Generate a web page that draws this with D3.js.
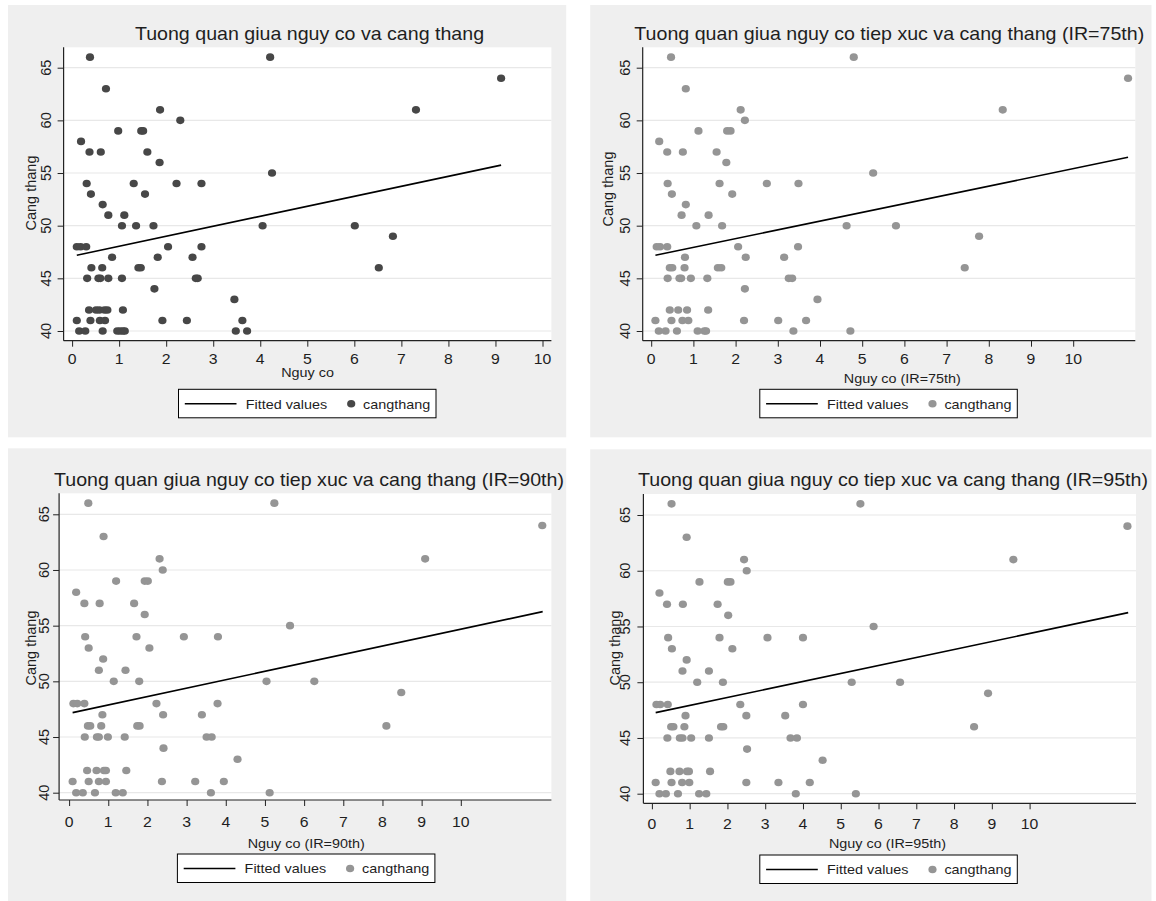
<!DOCTYPE html>
<html><head><meta charset="utf-8">
<script src="https://cdn.jsdelivr.net/npm/d3@7"></script>
<style>
html,body{margin:0;padding:0;background:#fff;}
svg{display:block;font-family:"Liberation Sans",Arial,sans-serif;}
</style></head><body>
<svg id="c" width="1156" height="901"></svg>
<script>
// ---------------- DATA ----------------
const xTicks = [0,1,2,3,4,5,6,7,8,9,10];
const yTicks = [40,45,50,55,60,65];
const titles = [
  "Tuong quan giua nguy co va cang thang",
  "Tuong quan giua nguy co tiep xuc va cang thang (IR=75th)",
  "Tuong quan giua nguy co tiep xuc va cang thang (IR=90th)",
  "Tuong quan giua nguy co tiep xuc va cang thang (IR=95th)"
];
const xTitles = ["Nguy co","Nguy co (IR=75th)","Nguy co (IR=90th)","Nguy co (IR=95th)"];
const yTitle = "Cang thang";
const legendLabels = ["Fitted values","cangthang"];

const stress1 = [66,66,64,63,61,61,60,59,59,59,58,57,57,57,56,55,54,54,54,54,53,53,52,51,51,50,50,50,50,50,49,48,48,48,48,48,47,47,47,46,46,46,46,46,45,45,45,45,45,45,45,44,43,42,42,42,42,42,42,41,41,41,41,41,41,41,40,40,40,40,40,40,40,40,40];
const risk1 = [0.38,4.21, 9.12, 0.72, 1.87,7.31, 2.30, 0.98,1.47,1.51, 0.19, 0.37,0.61,1.60, 1.86, 4.25, 0.31,1.31,2.22,2.75, 0.40,1.55, 0.65, 0.77,1.11, 1.06,1.36,1.73,4.05,6.01, 6.82, 0.10,0.18,0.30,2.04,2.75, 0.85,1.82,2.56, 0.41,0.64,1.41,1.46,6.52, 0.32,0.56,0.60,0.77,1.06,2.63,2.67, 1.75, 3.45, 0.36,0.51,0.58,0.69,0.75,1.08, 0.10,0.39,0.59,0.70,1.92,2.44,3.62, 0.15,0.28,0.65,0.96,1.02,1.08,1.12,3.48,3.72];

const stress2 = [66,66,64,63,61,61,60,59,59,59,58,57,57,57,56,55,54,54,54,54,53,53,52,51,51,50,50,50,50,49,48,48,48,48,48,47,47,47,46,46,46,46,46,46,45,45,45,45,45,45,45,44,43,42,42,42,42,41,41,41,41,41,41,41,40,40,40,40,40,40,40,40];
const risk2 = [0.47,4.80, 11.30, 0.82, 2.12,8.33, 2.22, 1.12,1.80,1.88, 0.19, 0.38,0.75,1.55, 1.78, 5.26, 0.39,1.62,2.74,3.49, 0.49,1.92, 0.82, 0.72,1.36, 1.07,1.68,4.63,5.80, 7.77, 0.13,0.21,0.38,2.06,3.48, 0.80,2.24,3.15, 0.44,0.50,0.79,1.58,1.66,7.43, 0.39,0.67,0.71,0.94,1.33,3.26,3.34, 2.22, 3.94, 0.44,0.64,0.85,1.35, 0.10,0.48,0.74,0.88,2.20,3.01,3.67, 0.18,0.34,0.61,1.10,1.26,1.30,3.37,4.72];

const stress3 = [66,66,64,63,61,61,60,59,59,59,58,57,57,57,56,55,54,54,54,54,53,53,52,51,51,50,50,50,50,49,48,48,48,48,48,47,47,47,46,46,46,46,46,46,45,45,45,45,45,45,45,44,43,42,42,42,42,42,41,41,41,41,41,41,41,40,40,40,40,40,40,40];
const risk3 = [0.49,5.24, 12.08, 0.88, 2.31,9.09, 2.39, 1.20,1.93,2.01, 0.18, 0.39,0.78,1.66, 1.93, 5.64, 0.41,1.72,2.93,3.80, 0.50,2.05, 0.87, 0.76,1.44, 1.14,1.79,5.04,6.26, 8.48, 0.11,0.21,0.39,2.23,3.79, 0.85,2.40,3.39, 0.48,0.54,0.82,1.74,1.80,8.10, 0.40,0.71,0.76,0.99,1.42,3.51,3.64, 2.41, 4.30, 0.46,0.70,0.89,0.94,1.46, 0.09,0.50,0.76,0.94,2.37,3.22,3.95, 0.18,0.35,0.66,1.19,1.37,3.62,5.12];

const stress4 = [66,66,64,63,61,61,60,59,59,59,58,57,57,57,56,55,54,54,54,54,53,53,52,51,51,50,50,50,50,49,48,48,48,48,48,47,47,47,46,46,46,46,46,46,45,45,45,45,45,45,45,44,43,42,42,42,42,42,41,41,41,41,41,41,41,40,40,40,40,40,40,40];
const risk4 = [0.52,5.52, 12.59, 0.92, 2.44,9.57, 2.51, 1.26,2.01,2.08, 0.20, 0.40,0.82,1.74, 2.02, 5.87, 0.43,1.79,3.06,4.00, 0.53,2.13, 0.92, 0.81,1.51, 1.20,1.88,5.29,6.57, 8.90, 0.12,0.22,0.42,2.34,4.00, 0.89,2.50,3.53, 0.51,0.57,0.86,1.83,1.89,8.53, 0.41,0.74,0.81,1.04,1.51,3.67,3.84, 2.52, 4.52, 0.49,0.73,0.93,0.98,1.54, 0.10,0.52,0.80,0.99,2.50,3.35,4.18, 0.20,0.37,0.69,1.25,1.44,3.81,5.40];

// fitted-line endpoints (x, y)
const fitX1 = [0.10, 9.12],  fitY1 = [47.20, 55.75];
const fitX2 = [0.10, 11.30], fitY2 = [47.20, 56.49];
const fitX3 = [0.09, 12.09], fitY3 = [47.19, 56.26];
const fitX4 = [0.10, 12.61], fitY4 = [47.27, 56.24];

// ---------------- LAYOUT (positions / styles) ----------------
const layout = [
  {bg:[8,5,566.2,437.3], plot:[63.6,47.3,551.4,340.7], x0:72.1, x10:542.5, y40:331, y65:67.7,
   titleX:309.5, titleY:39.5, yTickX:46.2, yTitleX:31, yTitleY:193, xTickY:363.5, xTitleX:307.6, xTitleY:377,
   legend:[178.5,389.3], dot:"#474747"},
  {bg:[590.2,5,1151.5,437.3], plot:[642.7,47.3,1135.3,340.7], x0:651.2, x10:1073.2, y40:331, y65:67.7,
   titleX:889.3, titleY:39.5, yTickX:625.2, yTitleX:607.6, yTitleY:189, xTickY:363.5, xTitleX:902.3, xTitleY:383,
   legend:[759.8,389.3], dot:"#959595"},
  {bg:[8,448.3,566.2,901], plot:[59.1,493.3,551.4,800], x0:69.1, x10:460.8, y40:792.7, y65:514.3,
   titleX:309, titleY:486, yTickX:43.6, yTitleX:31, yTitleY:648, xTickY:827, xTitleX:306.2, xTitleY:848.3,
   legend:[177.4,854], dot:"#959595"},
  {bg:[590.2,449.3,1151.5,901], plot:[643.4,494,1136,803.3], x0:651.9, x10:1029.6, y40:793.7, y65:515,
   titleX:893, titleY:486, yTickX:625.1, yTitleX:615, yTitleY:648, xTickY:829, xTitleX:887.5, xTitleY:848.3,
   legend:[759.8,855], dot:"#959595"}
];
const SX = 1.09; // horizontal stretch of the original raster

const series = [
  {x:risk1, y:stress1, fx:fitX1, fy:fitY1},
  {x:risk2, y:stress2, fx:fitX2, fy:fitY2},
  {x:risk3, y:stress3, fx:fitX3, fy:fitY3},
  {x:risk4, y:stress4, fx:fitX4, fy:fitY4}
];

const svg = d3.select("#c");

function label(g, x, y, str, size, anchor, rotate) {
  const t = g.append("text")
    .attr("transform", `translate(${x},${y}) scale(${SX},1)` + (rotate ? " rotate(-90)" : ""))
    .attr("text-anchor", anchor || "middle")
    .attr("font-size", size)
    .attr("fill", "#1e1e1e")
    .text(str);
  return t;
}

layout.forEach((L, i) => {
  const S = series[i];
  const g = svg.append("g");
  g.append("rect").attr("x", L.bg[0]).attr("y", L.bg[1])
    .attr("width", L.bg[2]-L.bg[0]).attr("height", L.bg[3]-L.bg[1]).attr("fill", "#efefef");
  g.append("rect").attr("x", L.plot[0]).attr("y", L.plot[1])
    .attr("width", L.plot[2]-L.plot[0]).attr("height", L.plot[3]-L.plot[1]).attr("fill", "#ffffff");

  const x = d3.scaleLinear().domain([0,10]).range([L.x0, L.x10]);
  const y = d3.scaleLinear().domain([40,65]).range([L.y40, L.y65]);

  // gridlines
  g.selectAll(".grid").data(yTicks).join("line")
    .attr("x1", L.plot[0]).attr("x2", L.plot[2])
    .attr("y1", d => y(d)).attr("y2", d => y(d))
    .attr("stroke", "#e8e8e8").attr("stroke-width", 1.2);

  // axes
  const xAxis = d3.axisBottom(x).tickValues(xTicks).tickSize(6).tickFormat("");
  const gx = g.append("g").attr("transform", `translate(0,${L.plot[3]})`).call(xAxis);
  gx.select(".domain").remove();
  gx.selectAll("line").attr("stroke", "#222");
  g.append("line").attr("x1", L.plot[0]).attr("x2", L.plot[2]).attr("y1", L.plot[3]).attr("y2", L.plot[3])
    .attr("stroke", "#222").attr("stroke-width", 1.2);

  const yAxis = d3.axisLeft(y).tickValues(yTicks).tickSize(6).tickFormat("");
  const gy = g.append("g").attr("transform", `translate(${L.plot[0]},0)`).call(yAxis);
  gy.select(".domain").remove();
  gy.selectAll("line").attr("stroke", "#222");
  g.append("line").attr("x1", L.plot[0]).attr("x2", L.plot[0]).attr("y1", L.plot[1]).attr("y2", L.plot[3])
    .attr("stroke", "#222").attr("stroke-width", 1.2);

  // tick labels
  xTicks.forEach(t => label(g, x(t), L.xTickY, String(t), 14.5, "middle"));
  yTicks.forEach(t => {
    g.append("text")
      .attr("transform", `translate(${L.yTickX},${y(t)}) rotate(-90)`)
      .attr("text-anchor", "middle").attr("dy", "0.36em")
      .attr("font-size", 14.5).attr("fill", "#1e1e1e").text(String(t));
  });

  // titles
  label(g, L.titleX, L.titleY, titles[i], 18, "middle");
  label(g, L.xTitleX, L.xTitleY, xTitles[i], 13.2, "middle");
  g.append("text")
    .attr("transform", `translate(${L.yTitleX},${L.yTitleY}) rotate(-90)`)
    .attr("text-anchor", "middle").attr("dy", "0.36em")
    .attr("font-size", 14.5).attr("fill", "#1e1e1e").text(yTitle);

  // points
  const pts = S.x.map((v, k) => ({x: v, y: S.y[k]}));
  g.selectAll(".pt").data(pts).join("ellipse")
    .attr("cx", d => x(d.x)).attr("cy", d => y(d.y))
    .attr("rx", 4.1).attr("ry", 3.8).attr("fill", L.dot);

  // fitted line
  const line = d3.line().x(d => x(d[0])).y(d => y(d[1]));
  g.append("path").datum(S.fx.map((v, k) => [v, S.fy[k]]))
    .attr("d", line).attr("fill", "none").attr("stroke", "#000").attr("stroke-width", 1.6);

  // legend
  const lx = L.legend[0], ly = L.legend[1];
  g.append("rect").attr("x", lx).attr("y", ly).attr("width", 257.5).attr("height", 28.5)
    .attr("fill", "#fff").attr("stroke", "#000").attr("stroke-width", 1);
  const my = ly + 14.5;
  g.append("line").attr("x1", lx + 6.3).attr("x2", lx + 58).attr("y1", my).attr("y2", my)
    .attr("stroke", "#000").attr("stroke-width", 1.6);
  label(g, lx + 67.2, my + 4.8, legendLabels[0], 13.2, "start");
  g.append("ellipse").attr("cx", lx + 172.7).attr("cy", my).attr("rx", 4.1).attr("ry", 3.8).attr("fill", L.dot);
  label(g, lx + 184.6, my + 4.8, legendLabels[1], 13.2, "start");
});
</script>
</body></html>
